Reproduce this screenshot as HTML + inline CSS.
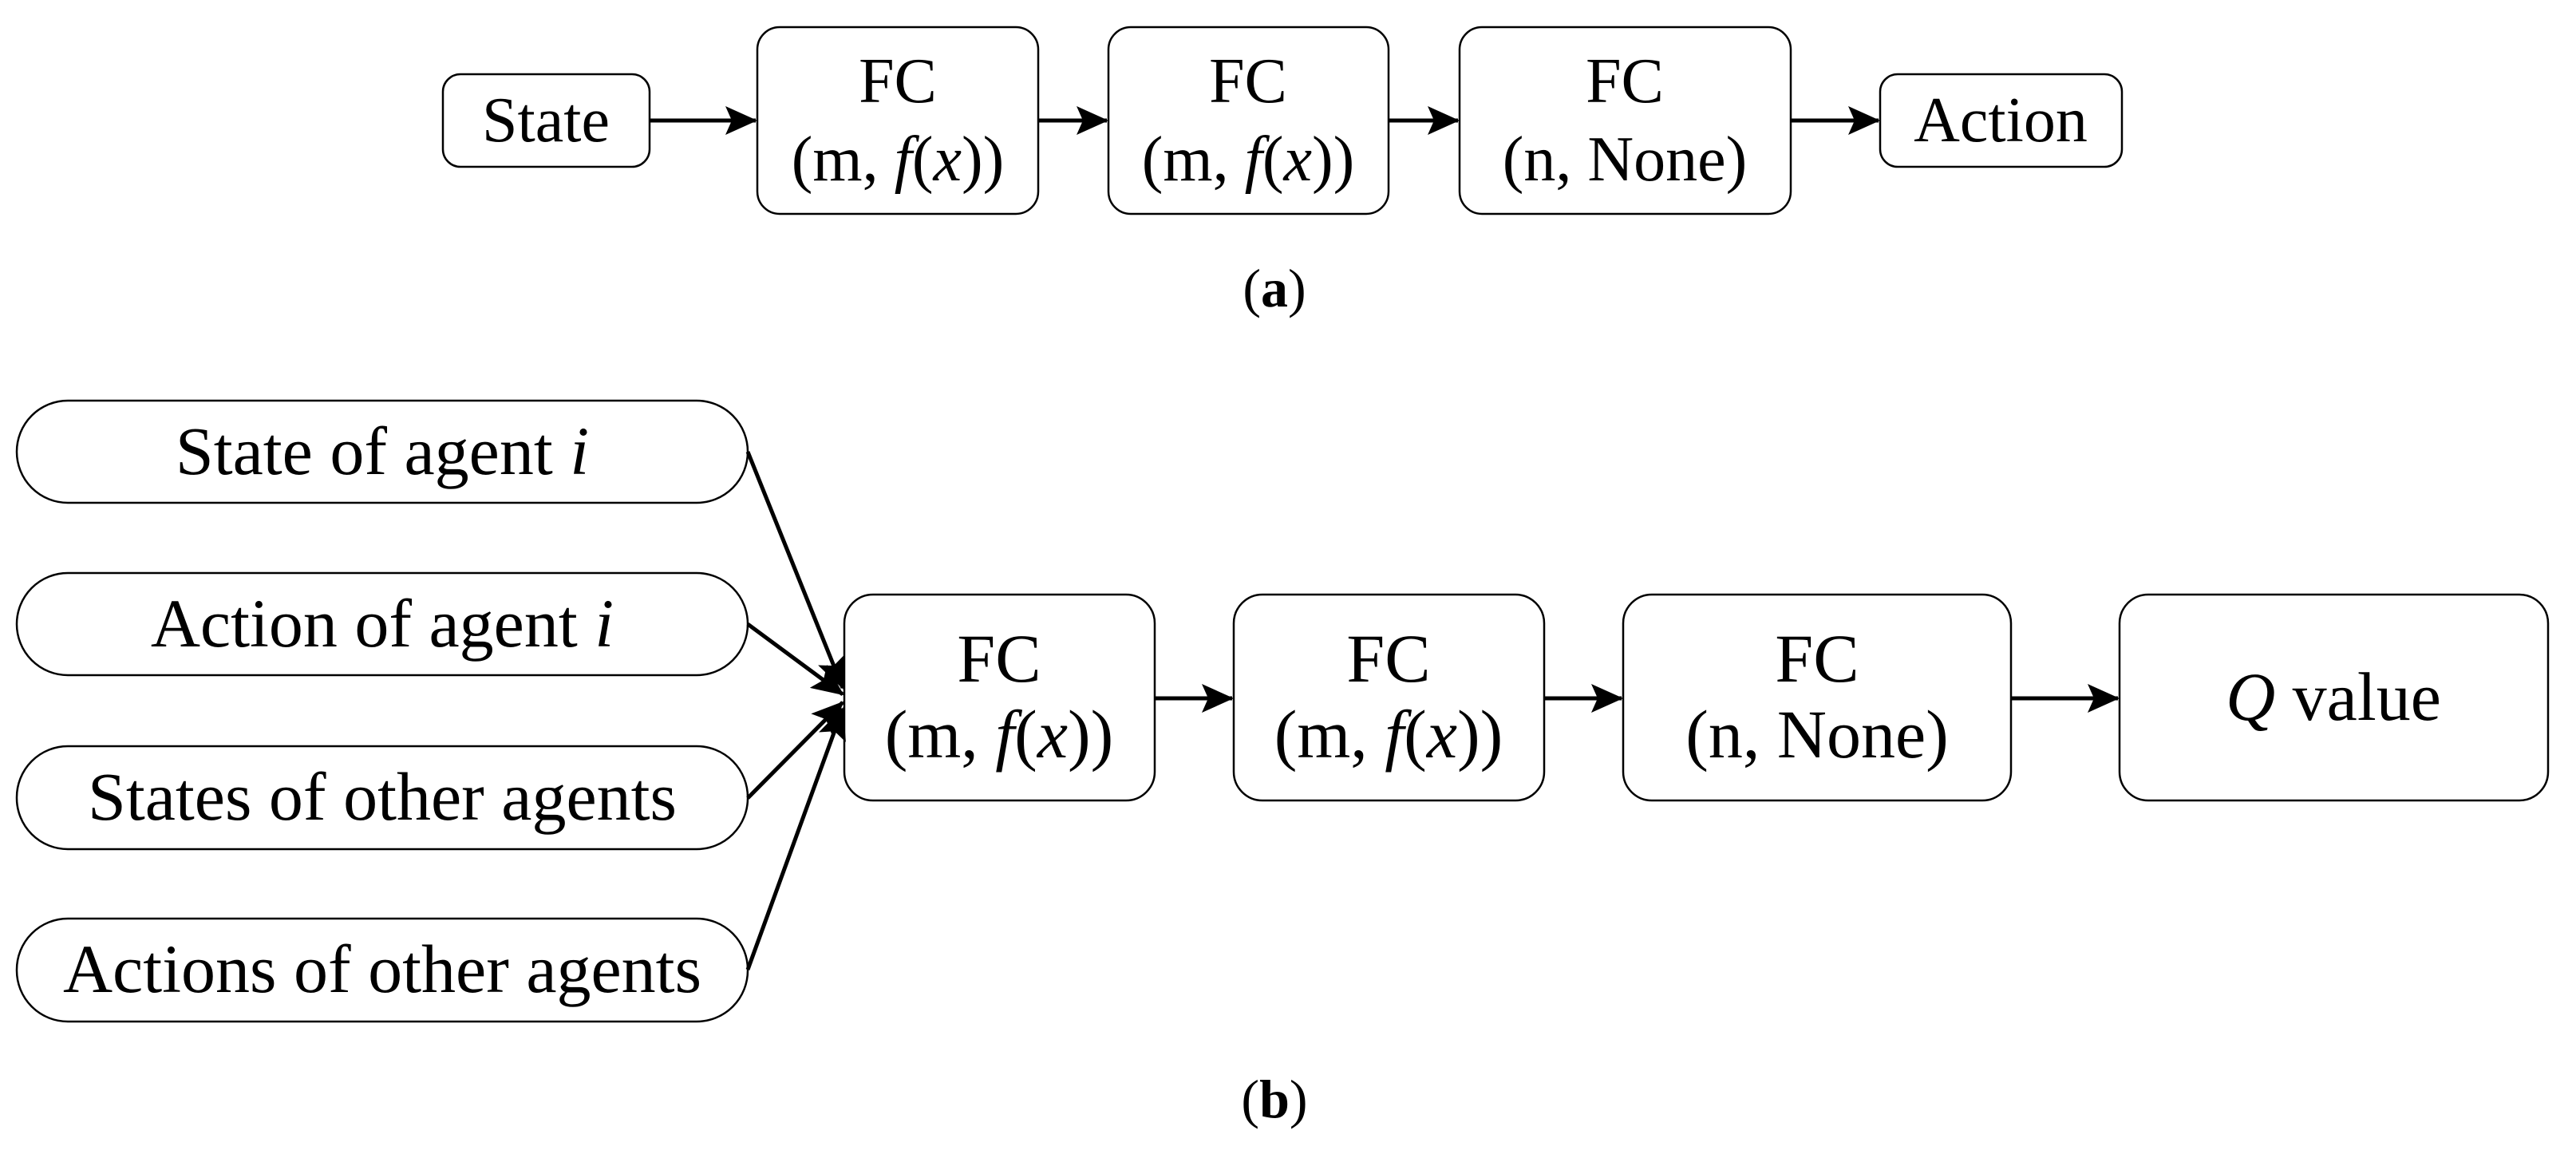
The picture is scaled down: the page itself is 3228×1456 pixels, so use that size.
<!DOCTYPE html>
<html><head><meta charset="utf-8"><style>
html,body{margin:0;padding:0;background:#fff;}
svg{display:block;}
text{font-family:"Liberation Serif",serif;fill:#000;}
</style></head><body>
<svg width="3228" height="1456" viewBox="0 0 3228 1456" xmlns="http://www.w3.org/2000/svg">
<defs>
<marker id="ah" markerWidth="40" markerHeight="36" refX="38" refY="18" orient="auto" markerUnits="userSpaceOnUse" viewBox="0 0 40 36">
<path d="M0,0 L40,18 L0,36 L8,18 z" fill="#000"/>
</marker>
</defs>
<g fill="none" stroke="#000" stroke-width="2.5">
<rect x="555" y="93" width="259" height="116" rx="22"/>
<rect x="949" y="34" width="352" height="234" rx="28"/>
<rect x="1389" y="34" width="351" height="234" rx="28"/>
<rect x="1829" y="34" width="415" height="234" rx="28"/>
<rect x="2356" y="93" width="303" height="116" rx="22"/>
<rect x="21" y="502" width="916" height="128" rx="64"/>
<rect x="21" y="718" width="916" height="128" rx="64"/>
<rect x="21" y="935" width="916" height="129" rx="64"/>
<rect x="21" y="1151" width="916" height="129" rx="64"/>
<rect x="1058" y="745" width="389" height="258" rx="36"/>
<rect x="1546" y="745" width="389" height="258" rx="36"/>
<rect x="2034" y="745" width="486" height="258" rx="36"/>
<rect x="2656" y="745" width="537" height="258" rx="36"/>
</g>
<g stroke="#000" stroke-width="5" fill="none">
<line x1="814" y1="151" x2="947" y2="151" marker-end="url(#ah)"/>
<line x1="1301" y1="151" x2="1387" y2="151" marker-end="url(#ah)"/>
<line x1="1740" y1="151" x2="1827" y2="151" marker-end="url(#ah)"/>
<line x1="2244" y1="151" x2="2354" y2="151" marker-end="url(#ah)"/>
<line x1="1447" y1="875" x2="1544" y2="875" marker-end="url(#ah)"/>
<line x1="1935" y1="875" x2="2032" y2="875" marker-end="url(#ah)"/>
<line x1="2520" y1="875" x2="2654" y2="875" marker-end="url(#ah)"/>
<line x1="937" y1="566" x2="1056" y2="862" marker-end="url(#ah)"/>
<line x1="937" y1="782" x2="1056" y2="870" marker-end="url(#ah)"/>
<line x1="937" y1="1000" x2="1056" y2="880" marker-end="url(#ah)"/>
<line x1="937" y1="1215" x2="1056" y2="888" marker-end="url(#ah)"/>
</g>
<g font-size="80" text-anchor="middle">
<text x="684" y="177">State</text>
<text x="1125" y="128">FC</text>
<text x="1125" y="226">(m, <tspan font-style="italic">f</tspan>(<tspan font-style="italic">x</tspan>))</text>
<text x="1564" y="128">FC</text>
<text x="1564" y="226">(m, <tspan font-style="italic">f</tspan>(<tspan font-style="italic">x</tspan>))</text>
<text x="2036" y="128">FC</text>
<text x="2036" y="226">(n, None)</text>
<text x="2507" y="177">Action</text>
<text x="1597" y="384" font-size="68">(<tspan font-weight="bold">a</tspan>)</text>
</g>
<g font-size="86" text-anchor="middle">
<text x="479" y="594">State of  agent <tspan font-style="italic">i</tspan></text>
<text x="479" y="810">Action of agent <tspan font-style="italic">i</tspan></text>
<text x="479" y="1027">States of other agents</text>
<text x="479" y="1243">Actions of other agents</text>
<text x="1252" y="854">FC</text>
<text x="1252" y="949">(m, <tspan font-style="italic">f</tspan>(<tspan font-style="italic">x</tspan>))</text>
<text x="1740" y="854">FC</text>
<text x="1740" y="949">(m, <tspan font-style="italic">f</tspan>(<tspan font-style="italic">x</tspan>))</text>
<text x="2277" y="854">FC</text>
<text x="2277" y="949">(n, None)</text>
<text x="2924" y="902"><tspan font-style="italic">Q</tspan> value</text>
<text x="1597" y="1400" font-size="68">(<tspan font-weight="bold">b</tspan>)</text>
</g>
</svg>
</body></html>
